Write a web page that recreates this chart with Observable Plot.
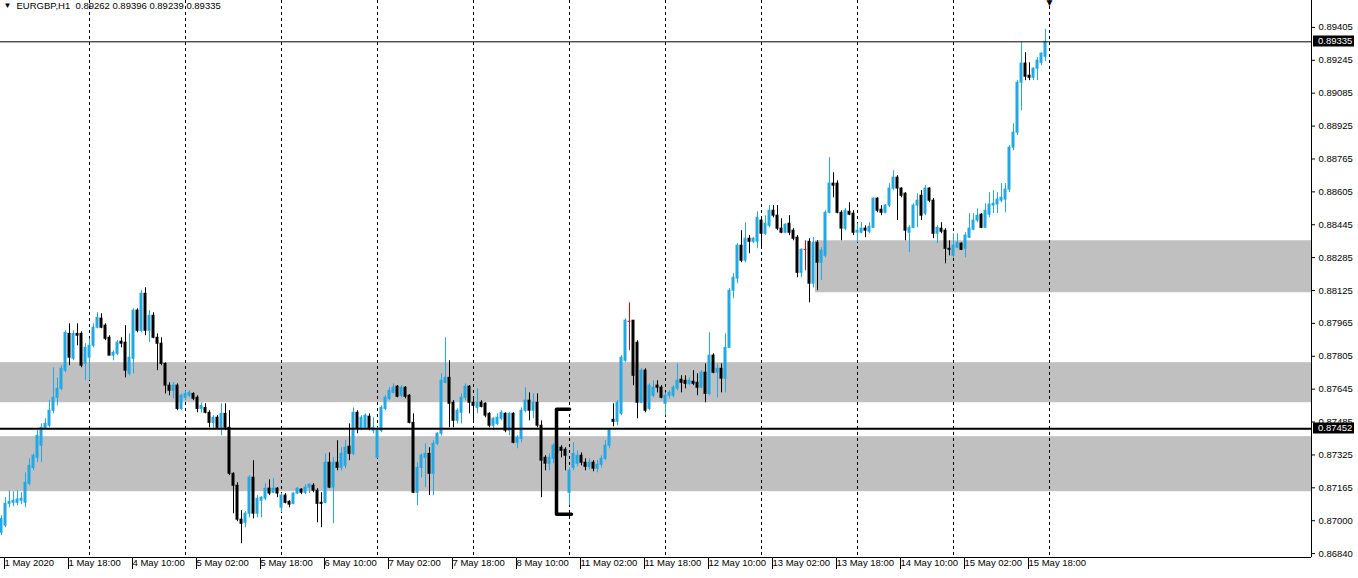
<!DOCTYPE html>
<html><head><meta charset="utf-8">
<script src="https://cdn.jsdelivr.net/npm/d3@7"></script>
<script src="https://cdn.jsdelivr.net/npm/@observablehq/plot@0.6"></script>
<style>
html,body{margin:0;padding:0;background:#fff;}
#chart{width:1358px;height:578px;overflow:hidden;}
</style></head><body><div id="chart"></div>
<script>
// ---- data (EURGBP, H1) ----
const symbolName = "EURGBP,H1";
const open = [0.86946,0.86981,0.87087,0.87092,0.87092,0.87102,0.87092,0.87185,0.87262,0.87311,0.87370,0.87457,0.87467,0.87540,0.87603,0.87647,0.87735,0.87914,0.87793,0.87914,0.87914,0.87768,0.87798,0.87856,0.87944,0.87988,0.87954,0.87895,0.87808,0.87817,0.87876,0.87871,0.87720,0.87793,0.88027,0.87929,0.88109,0.87929,0.88002,0.87895,0.87866,0.87768,0.87662,0.87637,0.87662,0.87549,0.87603,0.87613,0.87622,0.87603,0.87549,0.87554,0.87530,0.87481,0.87506,0.87457,0.87525,0.87457,0.87233,0.87175,0.87010,0.86995,0.87039,0.87214,0.87039,0.87102,0.87112,0.87161,0.87141,0.87161,0.87068,0.87127,0.87097,0.87087,0.87137,0.87156,0.87141,0.87166,0.87175,0.87151,0.87092,0.87092,0.87287,0.87166,0.87287,0.87262,0.87272,0.87365,0.87330,0.87530,0.87452,0.87457,0.87511,0.87443,0.87311,0.87443,0.87549,0.87598,0.87627,0.87657,0.87613,0.87652,0.87613,0.87481,0.87141,0.87262,0.87311,0.87330,0.87233,0.87379,0.87428,0.87676,0.87700,0.87579,0.87491,0.87530,0.87603,0.87657,0.87579,0.87554,0.87579,0.87574,0.87525,0.87467,0.87476,0.87501,0.87525,0.87443,0.87525,0.87384,0.87403,0.87540,0.87589,0.87540,0.87579,0.87467,0.87311,0.87282,0.87306,0.87335,0.87360,0.87350,0.87141,0.87262,0.87282,0.87321,0.87287,0.87267,0.87287,0.87258,0.87277,0.87306,0.87370,0.87496,0.87486,0.87525,0.87783,0.87973,0.87978,0.87871,0.87579,0.87735,0.87549,0.87613,0.87662,0.87652,0.87574,0.87613,0.87613,0.87647,0.87691,0.87686,0.87671,0.87681,0.87676,0.87652,0.87725,0.87622,0.87808,0.87725,0.87744,0.87696,0.87846,0.88124,0.88183,0.88343,0.88270,0.88377,0.88362,0.88362,0.88465,0.88401,0.88440,0.88513,0.88489,0.88426,0.88406,0.88450,0.88416,0.88382,0.88211,0.88323,0.88362,0.88158,0.88357,0.88260,0.88294,0.88503,0.88645,0.88645,0.88503,0.88426,0.88508,0.88499,0.88406,0.88406,0.88426,0.88411,0.88430,0.88572,0.88518,0.88503,0.88538,0.88621,0.88674,0.88621,0.88596,0.88406,0.88430,0.88538,0.88586,0.88499,0.88621,0.88562,0.88401,0.88426,0.88416,0.88328,0.88294,0.88333,0.88353,0.88328,0.88382,0.88421,0.88465,0.88494,0.88430,0.88494,0.88538,0.88543,0.88562,0.88567,0.88616,0.88820,0.88893,0.89136,0.89229,0.89170,0.89160,0.89204,0.89233,0.89262];
const high = [0.87029,0.87117,0.87151,0.87146,0.87151,0.87141,0.87238,0.87306,0.87330,0.87443,0.87476,0.87501,0.87589,0.87749,0.87700,0.87759,0.87929,0.87963,0.87929,0.87963,0.87924,0.87866,0.87890,0.87963,0.88017,0.88012,0.87963,0.87905,0.87832,0.87881,0.87895,0.87954,0.87914,0.88036,0.88036,0.88124,0.88138,0.88027,0.88017,0.87914,0.87895,0.87773,0.87676,0.87676,0.87671,0.87622,0.87637,0.87637,0.87627,0.87613,0.87579,0.87574,0.87540,0.87516,0.87516,0.87574,0.87574,0.87540,0.87238,0.87190,0.87054,0.87049,0.87224,0.87297,0.87127,0.87122,0.87185,0.87204,0.87209,0.87166,0.87137,0.87137,0.87102,0.87141,0.87166,0.87161,0.87180,0.87185,0.87185,0.87161,0.87141,0.87330,0.87335,0.87311,0.87394,0.87360,0.87394,0.87476,0.87554,0.87540,0.87516,0.87525,0.87525,0.87506,0.87457,0.87564,0.87613,0.87652,0.87671,0.87662,0.87662,0.87657,0.87618,0.87525,0.87287,0.87330,0.87379,0.87360,0.87394,0.87433,0.87720,0.87895,0.87783,0.87589,0.87549,0.87622,0.87671,0.87662,0.87603,0.87647,0.87589,0.87579,0.87530,0.87506,0.87525,0.87540,0.87530,0.87530,0.87530,0.87418,0.87554,0.87652,0.87627,0.87622,0.87622,0.87491,0.87321,0.87330,0.87379,0.87379,0.87370,0.87360,0.87262,0.87384,0.87345,0.87335,0.87306,0.87306,0.87297,0.87297,0.87321,0.87394,0.87452,0.87574,0.87589,0.87808,0.87988,0.88065,0.87978,0.87881,0.87744,0.87744,0.87671,0.87686,0.87686,0.87662,0.87627,0.87637,0.87662,0.87768,0.87710,0.87710,0.87700,0.87735,0.87720,0.87735,0.87768,0.87919,0.87817,0.87768,0.87768,0.87914,0.88134,0.88207,0.88353,0.88416,0.88455,0.88392,0.88382,0.88508,0.88474,0.88489,0.88538,0.88538,0.88538,0.88474,0.88450,0.88489,0.88426,0.88392,0.88328,0.88367,0.88377,0.88382,0.88367,0.88333,0.88513,0.88771,0.88698,0.88659,0.88513,0.88523,0.88552,0.88513,0.88450,0.88455,0.88440,0.88455,0.88576,0.88576,0.88538,0.88543,0.88645,0.88708,0.88684,0.88625,0.88601,0.88440,0.88547,0.88596,0.88611,0.88635,0.88625,0.88572,0.88440,0.88455,0.88426,0.88367,0.88401,0.88401,0.88357,0.88406,0.88499,0.88499,0.88523,0.88499,0.88547,0.88601,0.88611,0.88601,0.88645,0.88645,0.88829,0.88936,0.89146,0.89331,0.89282,0.89233,0.89209,0.89258,0.89282,0.89396];
const low = [0.86932,0.86971,0.87068,0.87073,0.87078,0.87083,0.87068,0.87175,0.87248,0.87287,0.87287,0.87452,0.87457,0.87525,0.87564,0.87637,0.87725,0.87759,0.87783,0.87856,0.87749,0.87686,0.87686,0.87846,0.87939,0.87939,0.87881,0.87808,0.87783,0.87808,0.87846,0.87700,0.87710,0.87720,0.87919,0.87919,0.87905,0.87871,0.87890,0.87735,0.87759,0.87622,0.87613,0.87598,0.87540,0.87540,0.87589,0.87603,0.87589,0.87530,0.87530,0.87525,0.87457,0.87452,0.87452,0.87418,0.87443,0.87224,0.87039,0.87000,0.86893,0.86971,0.87019,0.87014,0.87019,0.87019,0.87102,0.87127,0.87137,0.87117,0.87044,0.87087,0.87068,0.87083,0.87132,0.87132,0.87132,0.87137,0.87141,0.86995,0.86971,0.87087,0.87161,0.86990,0.87248,0.87248,0.87258,0.87297,0.87321,0.87428,0.87443,0.87452,0.87443,0.87428,0.87306,0.87433,0.87540,0.87589,0.87622,0.87603,0.87603,0.87598,0.87476,0.87137,0.87078,0.87214,0.87166,0.87127,0.87127,0.87370,0.87418,0.87671,0.87457,0.87457,0.87476,0.87476,0.87589,0.87525,0.87491,0.87525,0.87554,0.87506,0.87457,0.87443,0.87467,0.87491,0.87433,0.87418,0.87379,0.87355,0.87384,0.87530,0.87491,0.87501,0.87457,0.87117,0.87248,0.87248,0.87282,0.87297,0.87311,0.87248,0.87078,0.87248,0.87267,0.87272,0.87248,0.87253,0.87243,0.87238,0.87262,0.87297,0.87355,0.87462,0.87467,0.87516,0.87773,0.87832,0.87662,0.87501,0.87574,0.87530,0.87540,0.87603,0.87627,0.87598,0.87516,0.87598,0.87603,0.87637,0.87627,0.87647,0.87662,0.87662,0.87613,0.87647,0.87579,0.87613,0.87720,0.87603,0.87627,0.87627,0.87842,0.88085,0.88158,0.88260,0.88260,0.88304,0.88353,0.88328,0.88328,0.88392,0.88430,0.88479,0.88416,0.88401,0.88401,0.88392,0.88367,0.88187,0.88187,0.88221,0.88065,0.88138,0.88124,0.88173,0.88285,0.88498,0.88576,0.88498,0.88367,0.88416,0.88489,0.88392,0.88357,0.88401,0.88382,0.88401,0.88426,0.88503,0.88489,0.88498,0.88528,0.88611,0.88465,0.88576,0.88367,0.88309,0.88426,0.88430,0.88465,0.88489,0.88552,0.88377,0.88353,0.88401,0.88255,0.88294,0.88285,0.88328,0.88319,0.88285,0.88377,0.88416,0.88455,0.88426,0.88426,0.88479,0.88499,0.88499,0.88552,0.88503,0.88601,0.88805,0.88878,0.89000,0.89146,0.89146,0.89146,0.89146,0.89219,0.89239];
const close = [0.87014,0.87087,0.87097,0.87102,0.87108,0.87112,0.87190,0.87272,0.87321,0.87418,0.87457,0.87476,0.87540,0.87603,0.87647,0.87744,0.87919,0.87798,0.87914,0.87905,0.87759,0.87846,0.87856,0.87944,0.87992,0.87944,0.87890,0.87808,0.87822,0.87871,0.87866,0.87735,0.87798,0.88027,0.87929,0.88109,0.87929,0.88002,0.87895,0.87866,0.87768,0.87662,0.87637,0.87662,0.87549,0.87613,0.87622,0.87627,0.87598,0.87549,0.87564,0.87530,0.87481,0.87506,0.87457,0.87525,0.87457,0.87233,0.87175,0.87010,0.86990,0.87039,0.87214,0.87039,0.87112,0.87117,0.87161,0.87137,0.87161,0.87137,0.87127,0.87092,0.87083,0.87137,0.87161,0.87141,0.87166,0.87180,0.87151,0.87087,0.87087,0.87287,0.87166,0.87287,0.87262,0.87330,0.87360,0.87330,0.87530,0.87452,0.87506,0.87516,0.87452,0.87457,0.87443,0.87554,0.87603,0.87637,0.87652,0.87608,0.87652,0.87608,0.87481,0.87141,0.87262,0.87321,0.87330,0.87233,0.87379,0.87428,0.87686,0.87700,0.87574,0.87491,0.87540,0.87603,0.87657,0.87579,0.87564,0.87579,0.87559,0.87516,0.87467,0.87501,0.87506,0.87530,0.87443,0.87525,0.87384,0.87408,0.87540,0.87589,0.87540,0.87579,0.87467,0.87297,0.87282,0.87311,0.87370,0.87360,0.87345,0.87321,0.87248,0.87330,0.87321,0.87287,0.87267,0.87287,0.87258,0.87277,0.87306,0.87370,0.87443,0.87486,0.87579,0.87798,0.87978,0.87973,0.87710,0.87579,0.87735,0.87540,0.87662,0.87652,0.87652,0.87603,0.87613,0.87627,0.87652,0.87686,0.87676,0.87671,0.87686,0.87671,0.87652,0.87725,0.87622,0.87808,0.87725,0.87744,0.87696,0.87846,0.88124,0.88187,0.88343,0.88270,0.88377,0.88362,0.88377,0.88479,0.88401,0.88450,0.88513,0.88489,0.88426,0.88406,0.88445,0.88406,0.88377,0.88211,0.88323,0.88323,0.88158,0.88357,0.88260,0.88319,0.88503,0.88645,0.88635,0.88503,0.88426,0.88513,0.88494,0.88406,0.88416,0.88426,0.88416,0.88435,0.88572,0.88513,0.88503,0.88538,0.88621,0.88674,0.88621,0.88586,0.88416,0.88430,0.88538,0.88562,0.88489,0.88621,0.88562,0.88401,0.88430,0.88411,0.88328,0.88323,0.88343,0.88357,0.88323,0.88392,0.88426,0.88465,0.88489,0.88430,0.88513,0.88543,0.88547,0.88567,0.88576,0.88616,0.88820,0.88893,0.89136,0.89229,0.89165,0.89160,0.89204,0.89243,0.89277,0.89335];

// time axis (bar index of each label) and labels
const xLabelBars = [0,16,32,48,64,80,96,112,128,144,160,176,192,208,224,240,256];
const xLabels = ["1 May 2020","1 May 18:00","4 May 10:00","5 May 02:00","5 May 18:00","6 May 10:00","7 May 02:00","7 May 18:00","8 May 10:00","11 May 02:00","11 May 18:00","12 May 10:00","13 May 02:00","13 May 18:00","14 May 10:00","15 May 02:00","15 May 18:00"];
// period separators (first bar of each day)
const daySeparatorBars = [22,46,70,94,118,142,166,190,214,238,262];

// price axis
const yTickValues = [0.89405,0.89245,0.89085,0.88925,0.88765,0.88605,0.88445,0.88285,0.88125,0.87965,0.87805,0.87645,0.87485,0.87325,0.87165,0.87005,0.86845];
const yTickLabels = ["0.89405","0.89245","0.89085","0.88925","0.88765","0.88605","0.88445","0.88285","0.88125","0.87965","0.87805","0.87645","0.87485","0.87325","0.87165","0.87000","0.86840"];

// supply / demand zones (drawn rectangles)
const zoneLow = [0.87579, 0.87146, 0.88114];
const zoneHigh = [0.87774, 0.87414, 0.88367];
const zoneStartBar = [null, null, 203.5];

// horizontal levels: current bid and a drawn line
const levelPrices = [0.89335, 0.87452];
const levelKinds = ["bid", "drawn"];

// bracket drawn around the 8 May close
const bracketBars = [142.0, 138.75, 138.75, 142.5];
const bracketPrices = [0.87547, 0.87547, 0.87036, 0.87036];

// ---- chart ----
const BULL = "#21a8e6", BEAR = "#000000", DOJI = "#e00000";
const candles = open.map((o, i) => ({i, o, h: high[i], l: low[i], c: close[i]}));
const colorOf = d => d.c > d.o ? BULL : d.c < d.o ? BEAR : DOJI;
const zones = zoneLow.map((lo, k) => ({lo, hi: zoneHigh[k], start: zoneStartBar[k]}));
const levels = levelPrices.map((p, k) => ({p, kind: levelKinds[k]}));
const bracket = bracketBars.map((b, k) => ({b, p: bracketPrices[k]}));
const xDomain = [-0.25, 327.5];
const yDomain = [0.86826, 0.89536];
const last = candles[candles.length - 1];
const titleText = symbolName + "\u00a0 " + [last.o, last.h, last.l, last.c].map(v => v.toFixed(5)).join(" ");
const FONT = "'Liberation Sans', Arial, sans-serif";

const chart = Plot.plot({
  width: 1358, height: 578,
  marginLeft: 0, marginRight: 47, marginTop: 0, marginBottom: 21,
  style: {fontFamily: FONT, fontSize: "9.5px", background: "#fff", color: "#000", overflow: "visible"},
  x: {domain: xDomain, label: null},
  y: {domain: yDomain, label: null},
  marks: [
    Plot.rect(zones, {x1: d => d.start ?? xDomain[0], x2: () => xDomain[1], y1: "lo", y2: "hi", fill: "#c0c0c0"}),
    Plot.ruleX(daySeparatorBars, {x: d => d, stroke: "#000", strokeDasharray: "3,3"}),
    Plot.ruleX(candles, {x: "i", y1: "l", y2: "h", stroke: colorOf}),
    Plot.rect(candles, {x1: d => d.i - 0.375, x2: d => d.i + 0.375, y1: "o", y2: "c", fill: colorOf, insetTop: -0.5, insetBottom: -0.5}),
    Plot.ruleY(levels, {y: "p", stroke: "#000", strokeWidth: d => d.kind === "drawn" ? 2 : 1}),
    Plot.line(bracket, {x: "b", y: "p", stroke: "#000", strokeWidth: 3.5, strokeLinejoin: "round", strokeLinecap: "round", curve: "linear"}),
    Plot.ruleX([xDomain[1]], {x: d => d, stroke: "#000"}),
    Plot.ruleY([yDomain[0]], {y: d => d, stroke: "#000"}),
    Plot.axisY({anchor: "right", ticks: yTickValues, tickFormat: d => yTickLabels[yTickValues.indexOf(d)], tickSize: 3, tickPadding: 4, label: null, fontSize: 9.5}),
    Plot.axisX({anchor: "bottom", ticks: xLabelBars, tickFormat: d => xLabels[xLabelBars.indexOf(d)], textAnchor: "start", tickSize: 12, tickPadding: -10, dx: 3, label: null, fontSize: 9.5}),
    Plot.text([titleText], {frameAnchor: "top-left", dx: 16, dy: 2, textAnchor: "start", lineAnchor: "top", fontSize: 9.5, fill: "#000"}),
    Plot.text(["\u25bc"], {frameAnchor: "top-left", dx: 3, dy: 2, textAnchor: "start", lineAnchor: "top", fontSize: 8, fill: "#000"}),
    Plot.text([candles.length], {x: d => d, frameAnchor: "top", text: () => "\u25bc", lineAnchor: "top", dy: -2, fontSize: 10, fill: "#000"})
  ]
});

// price tags on the price axis
const ys = chart.scale("y");
const tags = d3.select(chart).append("g").attr("text-anchor", "start");
levels.forEach(l => {
  const yy = Math.round(ys.apply(l.p));
  tags.append("rect").attr("x", 1313).attr("y", yy - 5.5).attr("width", 41).attr("height", 11).attr("fill", "#000");
  tags.append("text").attr("x", 1318).attr("y", yy).attr("dy", "0.35em").attr("fill", "#fff")
    .attr("text-anchor", "start").attr("font-family", FONT).attr("font-size", 9.5).text(l.p.toFixed(5));
});
document.getElementById("chart").appendChild(chart);
</script>
</body></html>
